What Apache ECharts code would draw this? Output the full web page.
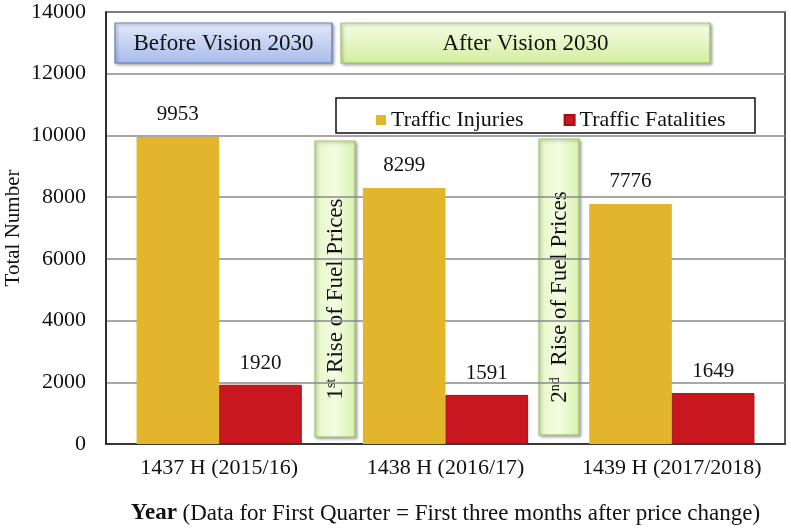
<!DOCTYPE html>
<html><head><meta charset="utf-8">
<script src="https://cdn.jsdelivr.net/npm/echarts@6/dist/echarts.min.js"></script>
<style>html,body{margin:0;padding:0;background:#fff}#c{width:791px;height:529px}</style>
</head><body><div id="c"></div>
<script>
const categories = ['1437 H (2015/16)', '1438 H (2016/17)', '1439 H (2017/2018)'];
const injuries = [9953, 8299, 7776];
const fatalities = [1920, 1591, 1649];
const yTicks = [0, 2000, 4000, 6000, 8000, 10000, 12000, 14000];

const F = 'Liberation Serif, Times New Roman, serif';
const chart = echarts.init(document.getElementById('c'));

function hBox(x, y, w, h, text, c1, c2, border) {
  return {
    type: 'group', z: 100,
    children: [
      {type: 'rect', shape: {x: x, y: y, width: w, height: h},
       style: {fill: new echarts.graphic.LinearGradient(0, 0, 0, 1, [{offset: 0, color: c1}, {offset: 1, color: c2}]),
               stroke: border, lineWidth: 1.2, shadowBlur: 3, shadowOffsetX: 1.5, shadowOffsetY: 1.5, shadowColor: 'rgba(0,0,0,0.35)'}},
      {type: 'text', x: x + w / 2, y: y + h / 2 + 1,
       style: {text: text, font: '23px ' + F, fill: '#111', align: 'center', verticalAlign: 'middle'}}
    ]
  };
}
function vBox(x, y, w, h, text) {
  return {
    type: 'group', z: 100,
    children: [
      {type: 'rect', shape: {x: x, y: y, width: w, height: h},
       style: {fill: new echarts.graphic.LinearGradient(0, 0, 1, 0, [{offset: 0, color: '#E6F7C4'}, {offset: 0.5, color: '#F3FCE2'}, {offset: 1, color: '#D9F0AE'}]),
               stroke: '#9EC46C', lineWidth: 1.2, shadowBlur: 3, shadowOffsetX: 1.5, shadowOffsetY: 1.5, shadowColor: 'rgba(0,0,0,0.35)'}},
      {type: 'text', x: x + w / 2 + 1, y: y + h / 2 + 10, rotation: Math.PI / 2,
       style: {text: text, font: '23px ' + F, fill: '#111', align: 'center', verticalAlign: 'middle',
               rich: {n: {fontSize: 23, fontFamily: F, fill: '#111'}, sup: {fontSize: 14, fontFamily: F, fill: '#111', verticalAlign: 'top', lineHeight: 23}}}}
    ]
  };
}

chart.setOption({
  backgroundColor: '#fff',
  animation: false,
  grid: {left: 106, right: 6, top: 12, bottom: 85, show: true, borderColor: '#222', borderWidth: 1.5,
         containLabel: false, outerBoundsMode: 'none'},
  legend: {
    left: 371, top: 104, itemWidth: 10, itemHeight: 10, itemGap: 40, icon: 'rect',
    textStyle: {fontFamily: F, fontSize: 22, color: '#111', padding: [0, 0, 0, 0]},
    data: ['Traffic Injuries', 'Traffic Fatalities'], z: 110
  },
  xAxis: {
    type: 'category', data: categories,
    axisLine: {show: true, lineStyle: {color: '#222', width: 1.5}},
    axisTick: {show: false},
    axisLabel: {fontFamily: F, fontSize: 22, color: '#111', margin: 13, interval: 0},
    name: '{b|Year} (Data for First Quarter = First three months after price change)',
    nameLocation: 'middle', nameGap: 58, nameMoveOverlap: false,
    nameTextStyle: {fontFamily: F, fontSize: 23, color: '#111',
      rich: {b: {fontFamily: F, fontSize: 23, fontWeight: 'bold', color: '#111'}}}
  },
  yAxis: {
    type: 'value', min: yTicks[0], max: yTicks[yTicks.length - 1], interval: yTicks[1] - yTicks[0],
    axisLine: {show: true, lineStyle: {color: '#222', width: 1.5}},
    axisTick: {show: false},
    axisLabel: {fontFamily: F, fontSize: 22, color: '#111', margin: 20, formatter: v => String(v)},
    splitLine: {lineStyle: {color: '#8a8a8a', width: 1.5}},
    name: 'Total Number', nameLocation: 'middle', nameGap: 82, nameMoveOverlap: false,
    nameTextStyle: {fontFamily: F, fontSize: 21, color: '#111'}
  },
  series: [
    {name: 'Traffic Injuries', type: 'bar', data: injuries, barGap: '0%', barCategoryGap: '27%',
     itemStyle: {color: '#E2B52A'},
     label: {show: true, position: 'top', distance: 12, fontFamily: F, fontSize: 21, color: '#111'}},
    {name: 'Traffic Fatalities', type: 'bar', data: fatalities,
     itemStyle: {color: '#C8171E', borderColor: '#9E1016', borderWidth: 1},
     label: {show: true, position: 'top', distance: 11, fontFamily: F, fontSize: 21, color: '#111'}}
  ],
  graphic: [
    hBox(115, 23, 217, 40, 'Before Vision 2030', '#E3E9FA', '#A8BBEA', '#5F7DC2'),
    hBox(341, 23, 369, 40, 'After Vision 2030', '#F6FDE6', '#D3EEA0', '#9CC46A'),
    {type: 'rect', z: 99, shape: {x: 336, y: 98, width: 419, height: 35},
     style: {fill: '#fff', stroke: '#111', lineWidth: 1.5}},
    vBox(315, 141, 40, 296, '{n|1}{sup|st}{n| Rise of Fuel Prices}'),
    vBox(539, 139, 40, 296, '{n|2}{sup|nd}{n|  Rise of Fuel Prices}')
  ]
});
</script></body></html>
